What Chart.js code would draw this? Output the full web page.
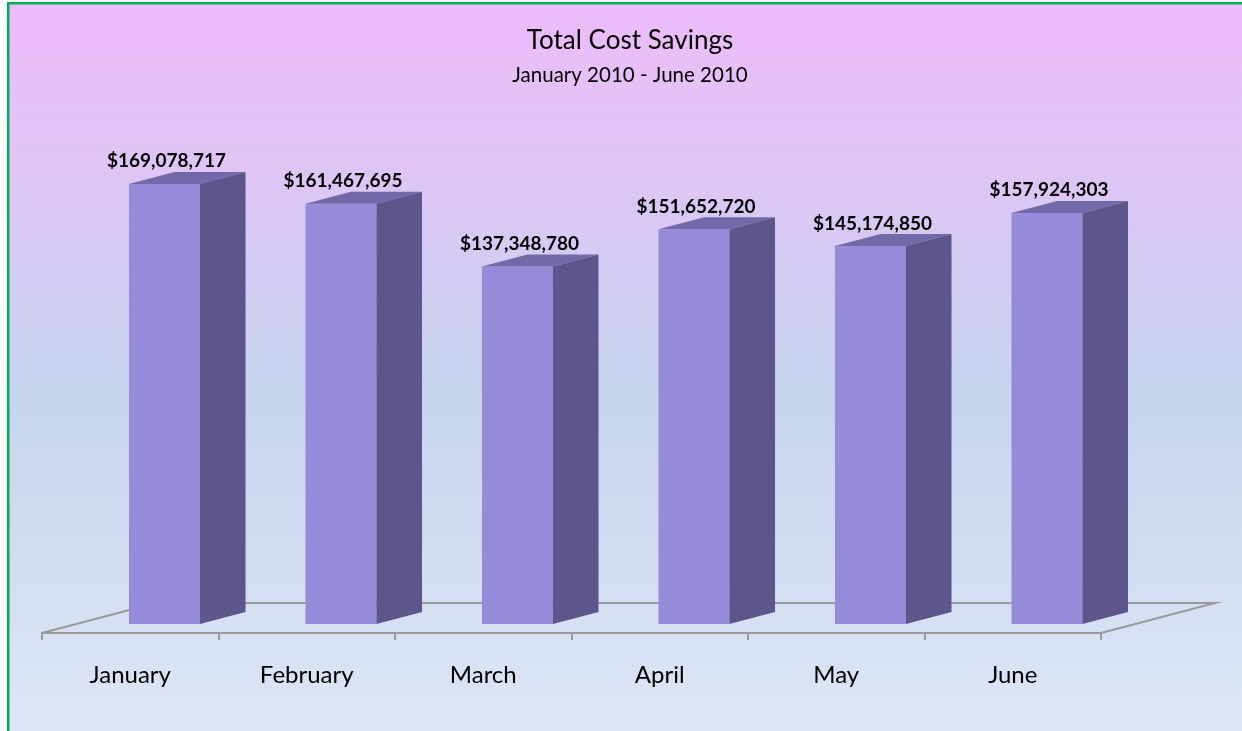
<!DOCTYPE html>
<html>
<head>
<meta charset="utf-8">
<script src="https://cdn.jsdelivr.net/npm/chart.js@4.4.1/dist/chart.umd.min.js"></script>
<style>
  html, body { margin: 0; padding: 0; background: #ffffff; }
  #wrap { width: 1242px; height: 731px; position: relative; }
</style>
</head>
<body>
<div id="wrap"><canvas id="c" width="1242" height="731"></canvas></div>
<script>
// ---- data ----
const categories = ['January', 'February', 'March', 'April', 'May', 'June'];
const savings = [169078717, 161467695, 137348780, 151652720, 145174850, 157924303];
const titleText = 'Total Cost Savings';
const subtitleText = 'January 2010 - June 2010';
const axisMin = 0;
const axisMax = 200000000;

// ---- styling ----
const FONT = 'Lato, "Open Sans", "DejaVu Sans", sans-serif';
const FRONT = '#958BD9';
const SIDE = '#5D568C';
const TOP = '#7169A8';
const FLOOR_LINE = '#9a9a9a';
const DEPTH_X = 114, DEPTH_Y = -30;      // floor depth projection
const BAR_D0 = 0.3, BAR_D1 = 0.7;          // bar depth range within the floor

function fmt(v) { return '$' + v.toLocaleString('en-US'); }

const bar3d = {
  id: 'bar3d',
  beforeDraw(chart) {
    const ctx = chart.ctx, W = chart.width, H = chart.height;
    ctx.save();
    ctx.fillStyle = '#ffffff';
    ctx.fillRect(0, 0, W, H);
    const g = ctx.createLinearGradient(0, 4, 0, H);
    g.addColorStop(0, '#EDBBFB');
    g.addColorStop(0.25, '#DDC6F5');
    g.addColorStop(0.53, '#C6D4EE');
    g.addColorStop(1, '#DEE6F5');
    ctx.fillStyle = g;
    ctx.fillRect(9, 4, W - 9, H - 4);
    ctx.fillStyle = '#00B050';
    ctx.fillRect(7, 2, W - 7, 2.5);
    ctx.fillRect(7, 2, 2.5, H - 2);
    ctx.restore();
  },
  beforeDatasetsDraw(chart) {
    const ctx = chart.ctx, a = chart.chartArea;
    ctx.save();
    ctx.strokeStyle = FLOOR_LINE;
    ctx.lineWidth = 2;
    ctx.beginPath();
    ctx.moveTo(a.left, a.bottom);
    ctx.lineTo(a.left + DEPTH_X, a.bottom + DEPTH_Y);
    ctx.lineTo(a.right + DEPTH_X, a.bottom + DEPTH_Y);
    ctx.lineTo(a.right, a.bottom);
    ctx.stroke();
    ctx.restore();
    ctx.save();
    ctx.translate(DEPTH_X * BAR_D0, DEPTH_Y * BAR_D0);
  },
  afterDatasetsDraw(chart) {
    const ctx = chart.ctx;
    const meta = chart.getDatasetMeta(0);
    const dx = DEPTH_X * (BAR_D1 - BAR_D0), dy = DEPTH_Y * (BAR_D1 - BAR_D0);
    meta.data.forEach((el, i) => {
      const p = el.getProps(['x', 'y', 'base', 'width'], true);
      const xl = p.x - p.width / 2, xr = p.x + p.width / 2;
      const yt = Math.min(p.y, p.base), yb = Math.max(p.y, p.base);
      ctx.fillStyle = TOP;
      ctx.beginPath();
      ctx.moveTo(xl, yt); ctx.lineTo(xr, yt);
      ctx.lineTo(xr + dx, yt + dy); ctx.lineTo(xl + dx, yt + dy);
      ctx.closePath(); ctx.fill();
      ctx.fillStyle = SIDE;
      ctx.beginPath();
      ctx.moveTo(xr, yt); ctx.lineTo(xr + dx, yt + dy);
      ctx.lineTo(xr + dx, yb + dy); ctx.lineTo(xr, yb);
      ctx.closePath(); ctx.fill();
      ctx.fillStyle = '#000000';
      ctx.font = 'bold 19px ' + FONT;
      ctx.textAlign = 'center';
      ctx.textBaseline = 'alphabetic';
      ctx.fillText(fmt(savings[i]), p.x + 2, yt - 16.5);
    });
    ctx.restore();
  }
};

new Chart(document.getElementById('c'), {
  type: 'bar',
  data: {
    labels: categories,
    datasets: [{
      label: 'Total Cost Savings',
      data: savings,
      backgroundColor: FRONT,
      borderWidth: 0,
      barPercentage: 0.402,
      categoryPercentage: 1.0
    }]
  },
  options: {
    responsive: false,
    animation: false,
    layout: { padding: { left: 20, right: 2, top: 0, bottom: 0 } },
    plugins: {
      legend: { display: false },
      tooltip: { enabled: false },
      title: {
        display: true, text: titleText, color: '#000000',
        font: { family: FONT, size: 26, weight: 'normal' },
        padding: { top: 25.5, bottom: 3 }
      },
      subtitle: {
        display: true, text: subtitleText, color: '#000000',
        font: { family: FONT, size: 20.5, weight: 'normal' },
        padding: { top: 3, bottom: 25.1 }
      }
    },
    scales: {
      x: {
        grid: { display: true, drawOnChartArea: false, drawTicks: true, tickLength: 7, color: FLOOR_LINE, lineWidth: 2, offset: true },
        border: { display: true, color: FLOOR_LINE, width: 2 },
        ticks: { color: '#000000', font: { family: FONT, size: 24 }, padding: 21, maxRotation: 0 },
        afterFit(s) { s.height = 98; }
      },
      y: {
        min: axisMin, max: axisMax,
        display: true,
        grid: { display: false },
        border: { display: false },
        ticks: { display: false },
        afterFit(s) { s.width = 22; }
      },
      yr: {
        type: 'linear', position: 'right', display: true,
        grid: { display: false },
        border: { display: false },
        ticks: { display: false },
        afterFit(s) { s.width = 139; }
      }
    }
  },
  plugins: [bar3d]
});
</script>
</body>
</html>
